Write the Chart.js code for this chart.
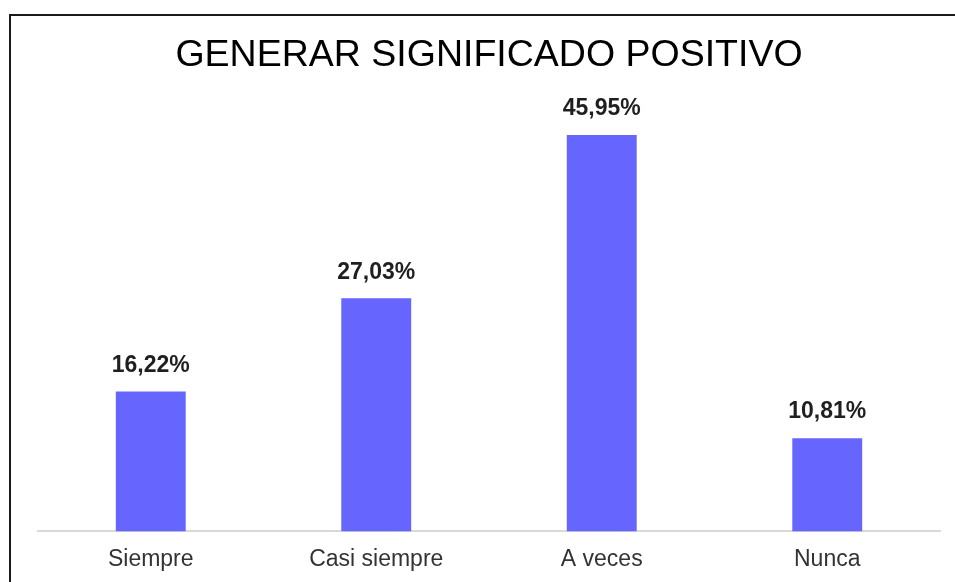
<!DOCTYPE html>
<html>
<head>
<meta charset="utf-8">
<script src="https://cdn.jsdelivr.net/npm/chart.js@4.4.0/dist/chart.umd.min.js"></script>
<style>
    html, body { margin: 0; padding: 0; background: #fff; overflow: hidden; }
    #wrap { position: relative; width: 955px; height: 582px; }
    #frame {
        position: absolute; left: 9px; top: 14px; width: 1000px; height: 700px;
        border-left: 2px solid #1a1a1a; border-top: 2px solid #1a1a1a;
        pointer-events: none;
    }
</style>
</head>
<body>
<div id="wrap">
    <canvas id="chart" width="955" height="582"></canvas>
    <div id="frame"></div>
</div>
<script>
const categories = ['Siempre', 'Casi siempre', 'A veces', 'Nunca'];
const percentages = [16.22, 27.03, 45.95, 10.81];

// draws the value above each bar
const barLabels = {
    id: 'barLabels',
    afterDatasetsDraw(chart) {
        const ctx = chart.ctx;
        const meta = chart.getDatasetMeta(0);
        ctx.save();
        ctx.font = 'bold 23px "Liberation Sans", Arial, sans-serif';
        ctx.fillStyle = '#1f1f1f';
        ctx.textAlign = 'center';
        ctx.textBaseline = 'middle';
        meta.data.forEach((bar, i) => {
            const txt = percentages[i].toFixed(2).replace('.', ',') + '%';
            ctx.fillText(txt, bar.x, bar.y - 26);
        });
        ctx.restore();
    }
};

const ctx = document.getElementById('chart').getContext('2d');
const chart = new Chart(ctx, {
    type: 'bar',
    data: {
        labels: categories,
        datasets: [{
            data: percentages,
            backgroundColor: '#6666ff',
            borderWidth: 0,
            barPercentage: 0.31,
            categoryPercentage: 1,
        }],
    },
    options: {
        responsive: false,
        animation: false,
        layout: {
            padding: { left: 38, right: 15, top: 0, bottom: -5 },
        },
        plugins: {
            legend: { display: false },
            tooltip: { enabled: false },
            title: {
                display: true,
                text: 'GENERAR SIGNIFICADO POSITIVO',
                color: '#000',
                font: { family: '"Liberation Sans", Arial, sans-serif', size: 37.5, weight: 'normal' },
                padding: { top: 33, bottom: 22 },
            },
        },
        scales: {
            x: {
                grid: { display: false, drawTicks: false },
                border: { display: true, color: '#d9d9d9', width: 2 },
                ticks: {
                    color: '#333',
                    padding: 14,
                    font: { family: '"Liberation Sans", Arial, sans-serif', size: 23 },
                },
            },
            y: {
                display: false,
                min: 0,
                max: 50,
            },
        },
    },
    plugins: [barLabels],
});
</script>
</body>
</html>
